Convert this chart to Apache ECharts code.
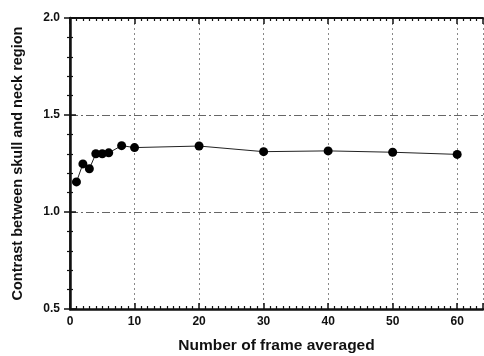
<!DOCTYPE html>
<html>
<head>
<meta charset="utf-8">
<script src="https://cdn.jsdelivr.net/npm/echarts@6/dist/echarts.min.js"></script>
<style>
  html, body { margin: 0; padding: 0; background: #fff; }
  #chart { width: 484px; height: 356px; }
</style>
</head>
<body>
<div id="chart"></div>
<script>
  // frames averaged vs. contrast
  const frames = [1, 2, 3, 4, 5, 6, 8, 10, 20, 30, 40, 50, 60];
  const contrast = [1.155, 1.248, 1.223, 1.30, 1.30, 1.305, 1.342, 1.332, 1.34, 1.311, 1.315, 1.308, 1.297];
  const xTicks = [0, 10, 20, 30, 40, 50, 60];
  const yTicks = [0.5, 1.0, 1.5, 2.0];

  const points = frames.map((f, i) => [f, contrast[i]]);
  const font = '"Liberation Sans", Arial, sans-serif';

  const chart = echarts.init(document.getElementById('chart'));
  chart.setOption({
    animation: false,
    backgroundColor: '#fff',
    grid: { left: 70, right: 1, top: 18, bottom: 47, outerBoundsMode: 'none' },
    xAxis: [
      {
        type: 'value', min: 0, max: 64, interval: 10,
        name: 'Number of frame averaged',
        nameLocation: 'middle', nameGap: 29,
        nameTextStyle: { fontFamily: font, fontSize: 15.5, fontWeight: 'bold', color: '#111' },
        axisLine: { lineStyle: { color: '#111', width: 2.5 } },
        axisTick: { inside: true, length: 6, lineStyle: { color: '#111', width: 1.5 } },
        minorTick: { show: true, splitNumber: 10, length: 3, lineStyle: { color: '#111', width: 1.2 } },
        axisLabel: {
          showMaxLabel: false, margin: 7,
          fontFamily: font, fontSize: 12, fontWeight: 'bold', color: '#111',
          formatter: v => xTicks.includes(v) ? String(v) : ''
        },
        splitLine: { show: true, lineStyle: { color: '#888', type: [2, 3], width: 1 } }
      },
      {
        type: 'value', min: 0, max: 64, interval: 10, position: 'top',
        axisLine: { lineStyle: { color: '#111', width: 2 } },
        axisTick: { inside: true, length: 6, lineStyle: { color: '#111', width: 1.5 } },
        minorTick: { show: true, splitNumber: 10, length: 3, lineStyle: { color: '#111', width: 1.2 } },
        axisLabel: { show: false },
        splitLine: { show: false }
      }
    ],
    yAxis: [
      {
        type: 'value', min: 0.5, max: 2.0, interval: 0.5,
        name: 'Contrast between skull and neck region',
        nameLocation: 'middle', nameGap: 45,
        nameTextStyle: { fontFamily: font, fontSize: 14.5, fontWeight: 'bold', color: '#111' },
        axisLine: { lineStyle: { color: '#111', width: 2.5 } },
        axisTick: { inside: true, length: 6, lineStyle: { color: '#111', width: 1.5 } },
        minorTick: { show: true, splitNumber: 5, length: 3, lineStyle: { color: '#111', width: 1.2 } },
        axisLabel: {
          margin: 10, fontFamily: font, fontSize: 12, fontWeight: 'bold', color: '#111',
          formatter: v => yTicks.includes(v) ? v.toFixed(1) : ''
        },
        splitLine: { show: true, lineStyle: { color: '#666', type: [8, 3, 2, 3], width: 1 } }
      },
      {
        type: 'value', min: 0.5, max: 2.0, interval: 0.5, position: 'right',
        axisLine: { show: true, lineStyle: { color: '#111', width: 1.5 } },
        axisTick: { show: true, inside: true, length: 6, lineStyle: { color: '#111', width: 1.5 } },
        minorTick: { show: true, splitNumber: 5, length: 3, lineStyle: { color: '#111', width: 1.2 } },
        axisLabel: { show: false },
        splitLine: { show: false }
      }
    ],
    series: [
      {
        type: 'line',
        data: points,
        symbol: 'circle',
        symbolSize: 9,
        itemStyle: { color: '#000' },
        lineStyle: { color: '#222', width: 1 },
        z: 5
      }
    ]
  });
</script>
</body>
</html>
